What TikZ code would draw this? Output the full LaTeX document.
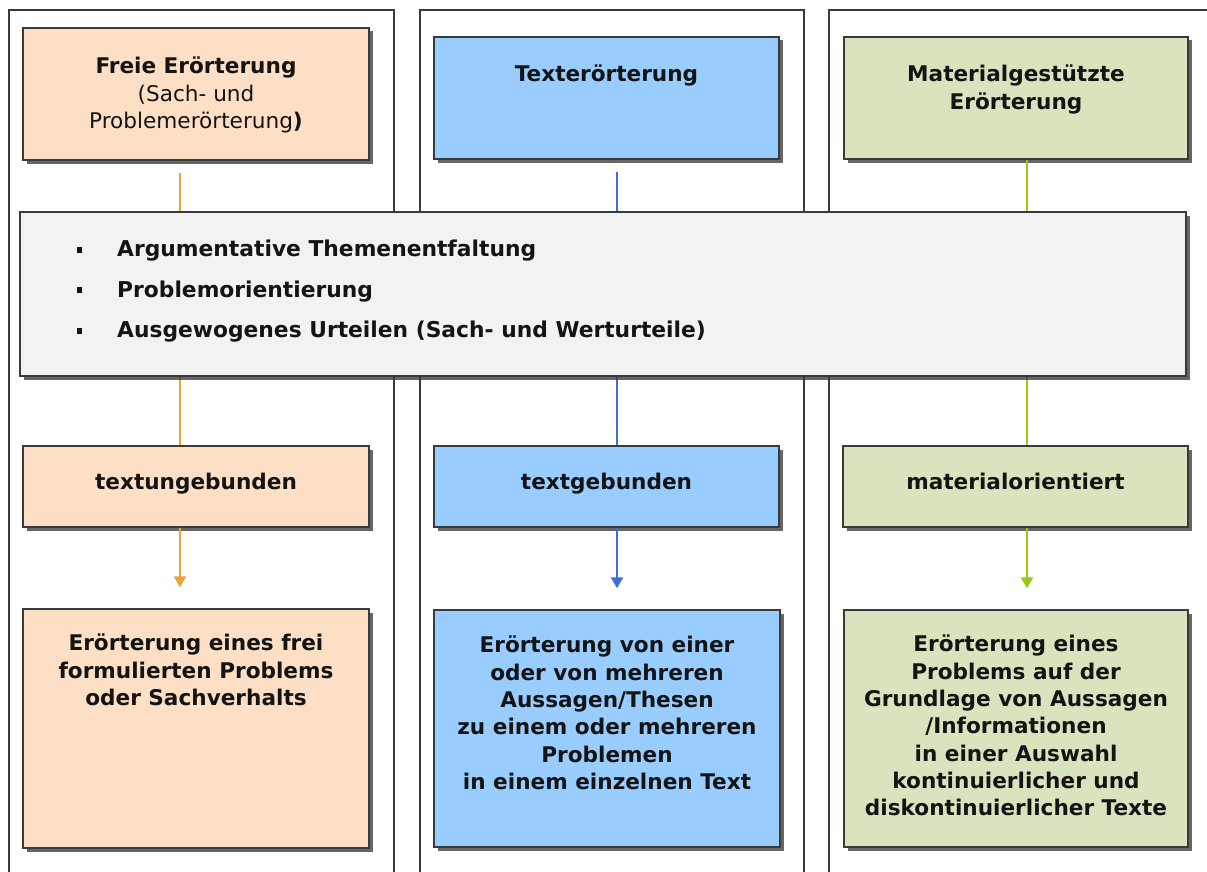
\documentclass[tikz,border=0pt]{standalone}
\usepackage{fontspec}
\setmainfont{DejaVu Sans}
\usetikzlibrary{shadows,arrows.meta}
\definecolor{peach}{HTML}{FCDFC5}
\definecolor{skyb}{HTML}{99CCFF}
\definecolor{sage}{HTML}{D7E4BD}
\definecolor{bandgray}{HTML}{F2F2F2}
\definecolor{orline}{HTML}{EBA43A}
\definecolor{blline}{HTML}{3F6FD8}
\definecolor{grline}{HTML}{9BC814}
\definecolor{framec}{HTML}{3A3A3A}
\definecolor{txtc}{HTML}{141414}
\begin{document}
\begin{tikzpicture}[x=1pt,y=-1pt,
  box/.style={draw=framec, line width=1.4pt, inner sep=0pt,
    drop shadow={shadow xshift=3.5pt, shadow yshift=-3.5pt, fill=black!80, opacity=0.75}},
  colframe/.style={draw=framec, line width=1.5pt},
  txt/.style={inner sep=0pt, align=center, text=txtc,
    font=\bfseries\fontsize{21.6}{27.3}\selectfont},
  conn/.style={line width=2.4pt},
  arr/.style={line width=2.4pt, -{Triangle[length=11pt,width=12pt]}, shorten >=21pt}
]
\useasboundingbox (0,0) rectangle (1207,872);
\fill[white] (0,0) rectangle (1207,872);
\clip (0,0) rectangle (1207,872);

% column frames
\draw[colframe] (9,890) -- (9,10) -- (394,10) -- (394,890);
\draw[colframe] (420,890) -- (420,10) -- (804,10) -- (804,890);
\draw[colframe] (829,890) -- (829,10) -- (1220,10);

% x positions of connectors
\coordinate (x1) at (180,0);
\coordinate (x2) at (617,0);
\coordinate (x3) at (1027,0);

% top boxes
\node[box, fill=peach, minimum width=346pt, minimum height=132pt] (t1) at (196,94) {};
\node[box, fill=skyb, minimum width=345pt, minimum height=122pt] (t2) at (606.5,98) {};
\node[box, fill=sage, minimum width=344pt, minimum height=122pt] (t3) at (1016,98) {};

% middle boxes
\node[box, fill=peach, minimum width=346pt, minimum height=81pt] (m1) at (196,486.5) {};
\node[box, fill=skyb, minimum width=345pt, minimum height=81pt] (m2) at (606.5,486.5) {};
\node[box, fill=sage, minimum width=345pt, minimum height=81pt] (m3) at (1015.5,486.5) {};

% bottom boxes
\node[box, fill=peach, minimum width=346pt, minimum height=239pt] (b1) at (196,728.5) {};
\node[box, fill=skyb, minimum width=346pt, minimum height=237pt] (b2) at (607,728.5) {};
\node[box, fill=sage, minimum width=344pt, minimum height=237pt] (b3) at (1016,728.5) {};

% connectors top -> middle (behind the band)
\draw[conn, orline] ([yshift=-12pt]t1.south -| x1) -- (m1.north -| x1);
\draw[conn, blline] ([yshift=-12pt]t2.south -| x2) -- (m2.north -| x2);
\draw[conn, grline] (t3.south -| x3) -- (m3.north -| x3);

% arrows middle -> bottom
\draw[arr, orline] (m1.south -| x1) -- (b1.north -| x1);
\draw[arr, blline] (m2.south -| x2) -- (b2.north -| x2);
\draw[arr, grline] (m3.south -| x3) -- (b3.north -| x3);

% band
\node[box, fill=bandgray, minimum width=1166pt, minimum height=164pt] (band) at (603,294) {};
\node[txt, align=left, anchor=north west, font=\bfseries\fontsize{21.8}{40.5}\selectfont] (bandtext) at (77,240)
  {\makebox[40pt][l]{\rule[4pt]{5pt}{6pt}}Argumentative Themenentfaltung\\
   \makebox[40pt][l]{\rule[4pt]{5pt}{6pt}}Problemorientierung\\
   \makebox[40pt][l]{\rule[4pt]{5pt}{6pt}}Ausgewogenes Urteilen (Sach- und Werturteile)};

% texts
\node[txt, anchor=north] (t1t) at (196,57)
  {Freie Erörterung\\{\mdseries (Sach- und}\\{\mdseries Problemerörterung})};
\node[txt, anchor=base] (t2t) at (606.5,82) {Texterörterung};
\node[txt, anchor=north] (t3t) at (1016,65) {Materialgestützte\\Erörterung};

\node[txt, anchor=base] (m1t) at (196,489) {textungebunden};
\node[txt, anchor=base] (m2t) at (606.5,489) {textgebunden};
\node[txt, anchor=base] (m3t) at (1015.5,489) {materialorientiert};

\node[txt, anchor=north] (b1t) at (196,634)
  {Erörterung eines frei\\formulierten Problems\\oder Sachverhalts};
\node[txt, anchor=north] (b2t) at (607,636)
  {Erörterung von einer\\oder von mehreren\\Aussagen/Thesen\\zu einem oder mehreren\\Problemen\\in einem einzelnen Text};
\node[txt, anchor=north] (b3t) at (1016,635)
  {Erörterung eines\\Problems auf der\\Grundlage von Aussagen\\/Informationen\\in einer Auswahl\\kontinuierlicher und\\diskontinuierlicher Texte};
\end{tikzpicture}
\end{document}
